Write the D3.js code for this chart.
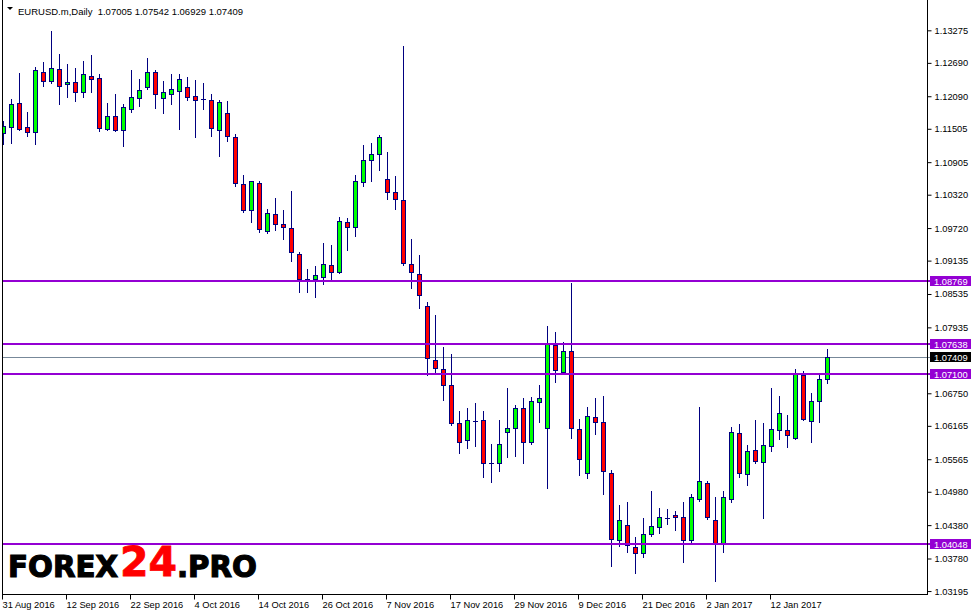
<!DOCTYPE html>
<html><head><meta charset="utf-8">
<script src="https://cdn.jsdelivr.net/npm/d3@7"></script>
<style>html,body{margin:0;padding:0;background:#fff;} svg{display:block;}</style>
</head><body><svg id="chart" width="971" height="615"></svg>
<script>
const symbolTitle = "EURUSD.m,Daily";
const headerOHLC = [1.07005, 1.07542, 1.06929, 1.07409];

const open = [1.11424,1.11542,1.11963,1.11537,1.11453,1.12526,1.12370,1.12574,1.12305,1.12346,
1.12161,1.12454,1.12418,1.11496,1.11735,1.11483,1.11855,1.12054,1.12262,1.12526,
1.12064,1.12135,1.12190,1.12251,1.12090,1.12032,1.12023,1.11483,1.11784,1.11358,
1.10507,1.10040,1.10525,1.09662,1.09968,1.09788,1.09716,1.09249,1.08800,1.08800,
1.08847,1.09051,1.08936,1.09825,1.09745,1.10554,1.10939,1.11047,1.10597,1.10363,
1.10219,1.09069,1.08889,1.08314,1.07343,1.07182,1.06894,1.06211,1.05905,1.06258,
1.06265,1.05492,1.05492,1.06049,1.06121,1.06480,1.05869,1.06589,1.06121,1.07613,
1.07139,1.07505,1.06103,1.05313,1.06318,1.06229,1.05313,1.04107,1.04378,1.03982,
1.03874,1.04216,1.04342,1.04508,1.04557,1.04521,1.04107,1.04845,1.05132,1.04467,
1.04042,1.04845,1.06031,1.05294,1.05725,1.05510,1.05797,1.06085,1.06085,1.05942,
1.07074,1.06247,1.06607,1.07005];
const high = [1.11651,1.12041,1.12513,1.11806,1.12621,1.12711,1.13263,1.12849,1.12670,1.12592,
1.12724,1.12831,1.12490,1.11963,1.12131,1.11945,1.12562,1.12401,1.12773,1.12562,
1.12364,1.12490,1.12490,1.12431,1.12377,1.12334,1.12131,1.12023,1.12005,1.11406,
1.10669,1.10566,1.10566,1.10058,1.10261,1.10040,1.10387,1.09285,1.08984,1.09039,
1.09447,1.09416,1.09914,1.09897,1.10674,1.11208,1.11244,1.11388,1.11088,1.10656,
1.12993,1.09524,1.09236,1.08386,1.08153,1.07578,1.07451,1.06426,1.06480,1.06571,
1.06426,1.05839,1.06265,1.06840,1.06535,1.06661,1.06679,1.06894,1.07954,1.07847,
1.07667,1.08733,1.06283,1.06499,1.06661,1.06696,1.05372,1.04737,1.04791,1.04161,
1.04503,1.04989,1.04683,1.04665,1.04629,1.04791,1.04935,1.06499,1.05168,1.04881,
1.04989,1.06139,1.06193,1.05815,1.06265,1.06211,1.06840,1.06696,1.06354,1.07182,
1.07146,1.06750,1.07110,1.07542];
const low = [1.11226,1.11255,1.11483,1.11376,1.11226,1.12274,1.12334,1.11951,1.12082,1.12010,
1.12082,1.12161,1.11470,1.11488,1.11473,1.11201,1.11812,1.11915,1.12215,1.11884,
1.11794,1.11956,1.11501,1.12023,1.11363,1.11861,1.11381,1.11021,1.11291,1.10471,
1.10009,1.09830,1.09655,1.09626,1.09680,1.09530,1.09134,1.08576,1.08576,1.08487,
1.08715,1.08805,1.08918,1.09326,1.09577,1.10482,1.10572,1.10764,1.10248,1.10069,
1.09051,1.08634,1.08289,1.07074,1.07110,1.06635,1.06186,1.05683,1.05772,1.05808,
1.05251,1.05161,1.05358,1.05611,1.05629,1.05503,1.05833,1.06240,1.05043,1.06959,
1.07092,1.05952,1.05287,1.05233,1.06024,1.04946,1.03651,1.04000,1.03903,1.03514,
1.03813,1.04190,1.04244,1.04396,1.04298,1.03709,1.04059,1.04805,1.04485,1.03382,
1.03892,1.04791,1.05240,1.05096,1.05492,1.04514,1.05707,1.05934,1.05779,1.05935,
1.06275,1.05880,1.06240,1.06929];
const close = [1.11555,1.11945,1.11506,1.11453,1.12562,1.12370,1.12592,1.12280,1.12346,1.12172,
1.12490,1.12405,1.11524,1.11735,1.11477,1.11891,1.12077,1.12202,1.12526,1.12135,
1.12166,1.12215,1.12401,1.12082,1.12017,1.12032,1.11514,1.11981,1.11376,1.10525,
1.10040,1.10561,1.09698,1.09986,1.09788,1.09734,1.09285,1.08811,1.08800,1.08872,
1.09069,1.08936,1.09843,1.09745,1.10561,1.10939,1.11047,1.11352,1.10374,1.10237,
1.09087,1.08925,1.08509,1.07379,1.07200,1.06894,1.06222,1.05869,1.06265,1.06258,
1.05492,1.05492,1.05833,1.06121,1.06480,1.05869,1.06607,1.06661,1.07631,1.07164,
1.07505,1.06132,1.05564,1.06336,1.06240,1.05349,1.04125,1.04467,1.04018,1.03874,
1.04216,1.04360,1.04521,1.04508,1.04532,1.04107,1.04881,1.05168,1.04521,1.04054,
1.04881,1.06049,1.05313,1.05707,1.05528,1.05815,1.06103,1.06390,1.05996,1.07110,
1.06283,1.06607,1.07003,1.07409];

const priceTicks = [1.13275,1.12690,1.12090,1.11505,1.10905,1.10320,1.09720,1.09135,1.08535,
1.07935,1.06750,1.06165,1.05565,1.04980,1.04380,1.03780,1.03195];
const dateTickLabels = ["31 Aug 2016","12 Sep 2016","22 Sep 2016","4 Oct 2016","14 Oct 2016",
"26 Oct 2016","7 Nov 2016","17 Nov 2016","29 Nov 2016","9 Dec 2016","21 Dec 2016","2 Jan 2017","12 Jan 2017"];
const levels = [1.08769, 1.07638, 1.07100, 1.04048];
const lastPrice = 1.07409;

// trading days (weekdays) from first to last bar
const fmt = d3.timeFormat("%-d %b %Y");
const dates = d3.timeDay.range(new Date(2016,7,31), new Date(2017,0,24))
  .filter(d => d.getDay() !== 0 && d.getDay() !== 6).map(fmt);
const bars = dates.map((d,i) => ({d, o:open[i], h:high[i], l:low[i], c:close[i]}));

const W = 971, H = 615;
const plotR = 927, plotB = 594;
const svg = d3.select("#chart");
svg.append("rect").attr("width", W).attr("height", H).attr("fill", "#fff");

const x = d3.scaleBand().domain(dates).range([-0.5, -0.5 + 8*dates.length]).paddingInner(0).paddingOuter(0);
const y = d3.scaleLinear().domain([1.03142, 1.13820]).range([plotB, 0]);
const cx = d => x(d) + x.bandwidth()/2;
const py = v => Math.round(y(v)) + 0.5;

svg.append("defs").append("clipPath").attr("id","plotclip")
  .append("rect").attr("x",3).attr("y",0).attr("width",plotR-3).attr("height",plotB);

const font = "'Liberation Sans', Arial, sans-serif";

// right price axis
const ya = svg.append("g").attr("transform", `translate(${plotR+0.5},0)`)
  .call(d3.axisRight(y).tickValues(priceTicks).tickSize(4).tickPadding(3).tickFormat(d3.format(".5f")));
ya.select(".domain").remove();
ya.selectAll("line").attr("stroke","#000");
ya.selectAll("text").attr("font-family", font).attr("font-size", 9.3).attr("fill","#000");

// bottom date axis
const xa = svg.append("g").attr("transform", `translate(0,${plotB+0.5})`)
  .call(d3.axisBottom(x).tickValues(dateTickLabels).tickSize(5).tickPadding(2));
xa.select(".domain").remove();
xa.selectAll("line").attr("stroke","#000").attr("transform","translate(-1,0)");
xa.selectAll("text").attr("font-family", font).attr("font-size", 9.3).attr("fill","#000")
  .attr("text-anchor","start").attr("x", -1);

const plot = svg.append("g").attr("clip-path","url(#plotclip)");

// last price line
plot.append("line").attr("x1",3).attr("x2",plotR).attr("y1",py(lastPrice)).attr("y2",py(lastPrice))
  .attr("stroke","#778899").attr("stroke-width",1);
svg.append("line").attr("x1",plotR).attr("x2",931).attr("y1",py(lastPrice)).attr("y2",py(lastPrice))
  .attr("stroke","#778899").attr("stroke-width",1);

// horizontal levels
levels.forEach(v => {
  const yy = Math.round(y(v));
  svg.append("line").attr("x1",3).attr("x2",931).attr("y1",yy).attr("y2",yy)
    .attr("stroke","#9400D3").attr("stroke-width",2);
});

// candles
const navy = "#000080";
const g = plot.append("g");
g.selectAll("line.wick").data(bars).join("line").attr("class","wick")
  .attr("x1", d => cx(d.d)).attr("x2", d => cx(d.d))
  .attr("y1", d => py(d.h) - 0.5).attr("y2", d => py(d.l) + 0.5)
  .attr("stroke", navy).attr("stroke-width", 1);
bars.forEach(b => {
  const c = cx(b.d);
  const yt = py(Math.max(b.o,b.c)), yb = py(Math.min(b.o,b.c));
  if (yb - yt < 1) {
    g.append("line").attr("x1", c-2.5).attr("x2", c+2.5).attr("y1", yt).attr("y2", yt)
      .attr("stroke", navy).attr("stroke-width", 1);
  } else {
    g.append("rect").attr("x", c-2).attr("width", 4).attr("y", yt).attr("height", yb-yt)
      .attr("fill", b.c > b.o ? "#00FF00" : "#FF0000").attr("stroke", navy).attr("stroke-width", 1);
  }
});

// frame
svg.append("line").attr("x1",2.5).attr("x2",2.5).attr("y1",0).attr("y2",plotB+0.5).attr("stroke","#000");
svg.append("line").attr("x1",plotR+0.5).attr("x2",plotR+0.5).attr("y1",0).attr("y2",plotB+0.5).attr("stroke","#000");
svg.append("line").attr("x1",2).attr("x2",plotR+1).attr("y1",plotB+0.5).attr("y2",plotB+0.5).attr("stroke","#000");

// price labels on axis
function priceLabel(v, bg) {
  const yy = Math.round(y(v));
  svg.append("rect").attr("x",930).attr("y",yy-5).attr("width",41).attr("height",10).attr("fill",bg);
  svg.append("text").attr("x",934).attr("y",yy+3.5).attr("font-family",font).attr("font-size",9.3)
    .attr("fill","#fff").text(d3.format(".5f")(v));
}
levels.forEach(v => priceLabel(v, "#9400D3"));
priceLabel(lastPrice, "#000");

// title
svg.append("path").attr("d","M7,7 L13,7 L10,10 Z").attr("fill","#000");
svg.append("text").attr("x",18).attr("y",14.5).attr("font-family",font).attr("font-size",9.5).attr("fill","#000")
  .attr("xml:space","preserve")
  .text(symbolTitle + "  " + headerOHLC.map(d3.format(".5f")).join(" "));

// watermark
const wm = "'DejaVu Sans', sans-serif";
svg.append("text").attr("x",8).attr("y",577).attr("font-family",wm).attr("font-weight","bold")
  .attr("font-size",30).attr("fill","#000").attr("stroke","#000").attr("stroke-width",1.2)
  .attr("textLength",110).attr("lengthAdjust","spacingAndGlyphs").text("FOREX");
svg.append("text").attr("x",120).attr("y",576).attr("font-family",wm).attr("font-weight","bold")
  .attr("font-size",40).attr("fill","#FF0000").attr("stroke","#FF0000").attr("stroke-width",0.8)
  .attr("textLength",57).attr("lengthAdjust","spacingAndGlyphs").text("24");
svg.append("text").attr("x",177).attr("y",577).attr("font-family",wm).attr("font-weight","bold")
  .attr("font-size",30).attr("fill","#000").attr("stroke","#000").attr("stroke-width",1.2)
  .attr("textLength",80).attr("lengthAdjust","spacingAndGlyphs").text(".PRO");
</script></body></html>
